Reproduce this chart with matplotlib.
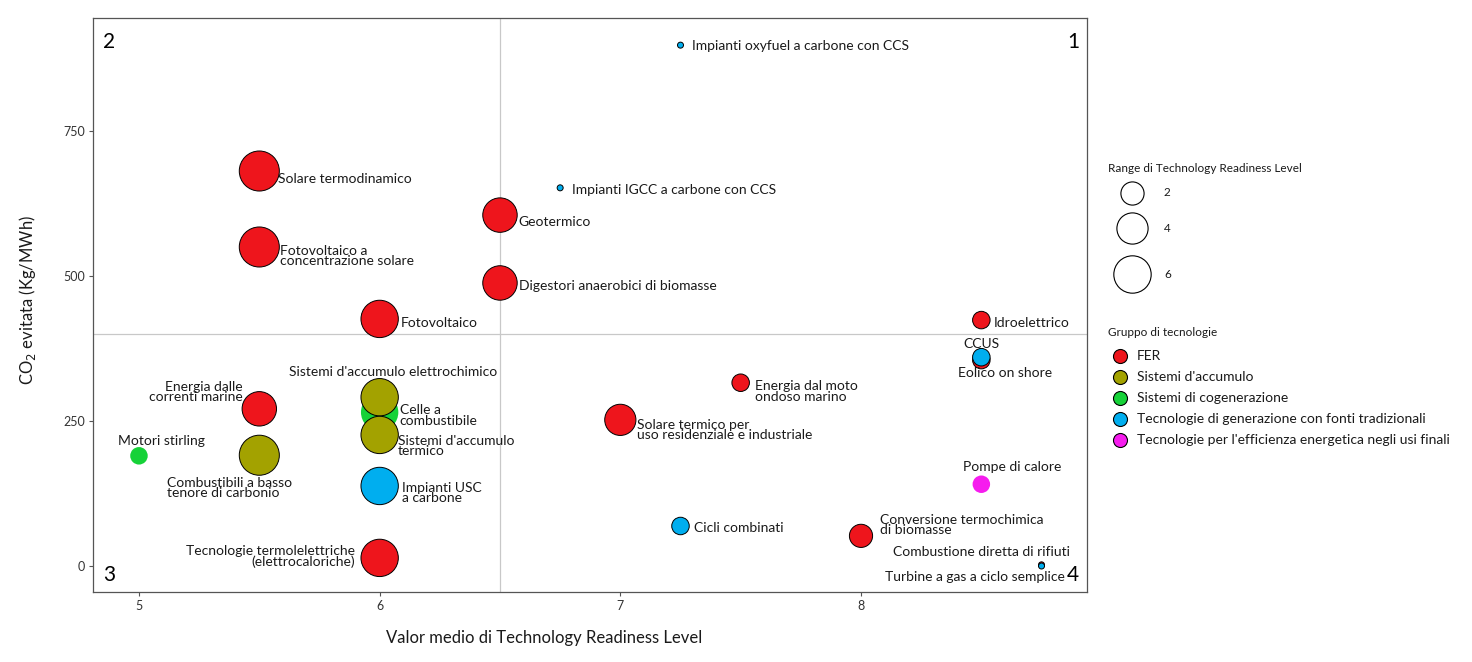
import numpy as np
import matplotlib
matplotlib.use('Agg')
import matplotlib.pyplot as plt

plt.rcParams['font.family'] = ['Lato', 'DejaVu Sans']

# data
names = ['Impianti oxyfuel a carbone con CCS', 'Impianti IGCC a carbone con CCS',
         'Solare termodinamico', 'Fotovoltaico a\nconcentrazione solare',
         'Geotermico', 'Digestori anaerobici di biomasse', 'Fotovoltaico',
         'Idroelettrico', 'CCUS', 'Eolico on shore',
         'Energia dal moto\nondoso marino', 'Energia dalle\ncorrenti marine',
         "Sistemi d'accumulo elettrochimico", 'Celle a\ncombustibile',
         "Sistemi d'accumulo\ntermico", 'Solare termico per\nuso residenziale e industriale',
         'Motori stirling', 'Combustibili a basso\ntenore di carbonio',
         'Impianti USC\na carbone', 'Pompe di calore', 'Cicli combinati',
         'Conversione termochimica\ndi biomasse', 'Combustione diretta di rifiuti',
         'Turbine a gas a ciclo semplice',
         'Tecnologie termolelettriche\n(elettrocaloriche)']
trl_mean = [7.25, 6.75, 5.5, 5.5, 6.5, 6.5, 6.0, 8.5, 8.5, 8.5, 7.5, 5.5, 6.0, 6.0,
            6.0, 7.0, 5.0, 5.5, 6.0, 8.5, 7.25, 8.0, 8.75, 8.75, 6.0]
co2_avoided = [898, 652, 681, 550, 605, 488, 426, 424, 360, 355, 316, 271, 291, 265,
               226, 252, 190, 191, 138, 141, 69, 52, 2, 0, 14]
trl_range = [0, 0, 7, 7, 5, 5, 6, 1, 1, 1, 1, 5, 6, 6, 6, 4, 1, 7, 6, 1, 1, 2, 0, 0, 6]
groups = ['trad', 'trad', 'FER', 'FER', 'FER', 'FER', 'FER', 'FER', 'trad', 'FER',
          'FER', 'FER', 'acc', 'cog', 'acc', 'FER', 'cog', 'acc', 'trad', 'eff',
          'trad', 'FER', 'FER', 'trad', 'FER']

group_keys = ['FER', 'acc', 'cog', 'trad', 'eff']
group_labels = ['FER', "Sistemi d'accumulo", 'Sistemi di cogenerazione',
                'Tecnologie di generazione con fonti tradizionali',
                "Tecnologie per l'efficienza energetica negli usi finali"]
group_colors = {'FER': '#EE151C', 'acc': '#A3A200', 'cog': '#16D238',
                'trad': '#00AEEF', 'eff': '#F61CEE'}
group_edges = {'FER': 'black', 'acc': 'black', 'cog': 'none',
               'trad': 'black', 'eff': 'none'}
draw_order = ['FER', 'cog', 'acc', 'trad', 'eff']
size_breaks = [2, 4, 6]

# label placement: offset from the point in pixels (dx right, dy down), alignment
label_layout = [(12, 1, 'left'), (12, 2, 'left'), (19, 8, 'left'), (21, 9, 'left'),
                (18, 7, 'left'), (19, 3, 'left'), (21, 4, 'left'), (12, 3, 'left'),
                (0, -13, 'center'), (24, 13, 'center'), (14, 9, 'left'),
                (-17, -17, 'right'), (13, -25, 'center'), (20, 3, 'left'),
                (18, 11, 'left'), (17, 10, 'left'), (22, -15, 'center'),
                (-92, 33, 'left'), (22, 7, 'left'), (31, -17, 'center'),
                (14, 2, 'left'), (19, -11, 'left'), (-60, -13, 'center'),
                (-67, 11, 'center'), (-25, -1, 'right')]

DPI = 100
W, H = 1472, 662


def radius_px(v):
    return np.maximum(1.9 + 6.85 * np.sqrt(v), 3.0)


def marker_area(r):
    return (2 * r * 72 / DPI) ** 2


fig = plt.figure(figsize=(W / DPI, H / DPI), dpi=DPI)
ax = fig.add_axes([93 / W, 1 - 592 / H, (1087 - 93) / W, (592 - 18) / H])

x = np.array(trl_mean)
y = np.array(co2_avoided)
r = radius_px(np.array(trl_range, dtype=float))
g = np.array(groups)

for key in draw_order:
    m = g == key
    ax.scatter(x[m], y[m], s=marker_area(r[m]), c=group_colors[key],
               edgecolors=group_edges[key], linewidths=0.7, zorder=3)

for i, name in enumerate(names):
    dx, dy, ha = label_layout[i]
    ax.annotate(name, (x[i], y[i]), xytext=(dx * 0.72, -dy * 0.72),
                textcoords='offset points', ha=ha, va='center',
                multialignment=ha if ha != 'center' else 'center',
                fontsize=10, color='#1a1a1a', linespacing=0.85, zorder=4)

ax.axhline(400, color='#C8C8C8', lw=0.9, zorder=1)
ax.axvline(6.5, color='#C8C8C8', lw=0.9, zorder=1)

ax.set_xlim(4.809, 8.939)
ax.set_ylim(-44.8, 944.8)
ax.set_xticks([5, 6, 7, 8])
ax.set_yticks([0, 250, 500, 750])
ax.tick_params(length=3, width=0.8, color='#555555', labelsize=9,
               labelcolor='#333333', pad=3)
for sp in ax.spines.values():
    sp.set_color('#555555')
    sp.set_linewidth(0.9)

# quadrant numbers
qkw = dict(transform=ax.transAxes, fontsize=15, color='black')
ax.text(0.01, 0.975, '2', ha='left', va='top', **qkw)
ax.text(0.992, 0.975, '1', ha='right', va='top', **qkw)
ax.text(0.01, 0.012, '3', ha='left', va='bottom', **qkw)
ax.text(0.992, 0.012, '4', ha='right', va='bottom', **qkw)

fig.text(544 / W, 1 - 638 / H, 'Valor medio di Technology Readiness Level',
         ha='center', va='center', fontsize=12, color='#1a1a1a')
fig.text(27 / W, 1 - 300 / H, r'CO$_2$ evitata (Kg/MWh)', rotation=90,
         ha='center', va='center', fontsize=12, color='#1a1a1a')

# legends drawn in a pixel-coordinate axes
lg = fig.add_axes([1095 / W, 1 - 460 / H, (W - 1095) / W, 310 / H])
lg.set_xlim(1095, W)
lg.set_ylim(460, 150)
lg.axis('off')

lg.text(1108, 168, 'Range di Technology Readiness Level', ha='left', va='center',
        fontsize=8.5, color='#1a1a1a')
for b, yy in zip(size_breaks, [193, 228, 274]):
    lg.scatter([1132], [yy], s=marker_area(radius_px(b)), facecolors='white',
               edgecolors='black', linewidths=0.8)
    lg.text(1164, yy, str(b), ha='left', va='center', fontsize=8.5, color='#1a1a1a')

lg.text(1108, 333, 'Gruppo di tecnologie', ha='left', va='center',
        fontsize=8.5, color='#1a1a1a')
for k, (key, lab) in enumerate(zip(group_keys, group_labels)):
    yy = 356 + k * 21
    lg.scatter([1120], [yy], s=marker_area(7), c=group_colors[key],
               edgecolors='black', linewidths=0.8)
    lg.text(1137, yy, lab, ha='left', va='center', fontsize=10, color='#1a1a1a')

fig.savefig('out.png', dpi=DPI)
